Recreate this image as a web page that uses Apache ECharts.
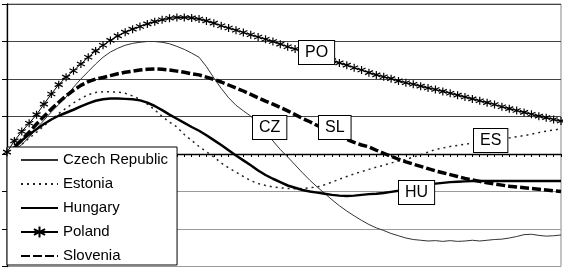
<!DOCTYPE html>
<html>
<head>
<meta charset="utf-8">
<script src="https://cdn.jsdelivr.net/npm/echarts@6/dist/echarts.min.js"></script>
<style>
html,body{margin:0;padding:0;background:#fff;}
#chart{width:563px;height:268px;}
</style>
</head>
<body>
<div id="chart"></div>
<script>
var seriesNames = ['Czech Republic', 'Estonia', 'Hungary', 'Poland', 'Slovenia'];

var czech = [0, 0.1, 0.25, 0.45, 0.68, 0.9, 1.12, 1.32, 1.52, 1.78, 2.0, 2.2, 2.4, 2.58, 2.72, 2.82, 2.9, 2.95, 2.98, 3.0,
  3.0, 2.98, 2.94, 2.87, 2.79, 2.69, 2.58, 2.33, 2.03, 1.75, 1.5, 1.3, 1.15, 1.01, 0.8, 0.58, 0.35, 0.12, -0.08, -0.29,
  -0.5, -0.7, -0.88, -1.05, -1.22, -1.38, -1.52, -1.65, -1.77, -1.88, -1.97, -2.04, -2.12, -2.18, -2.24, -2.28, -2.3, -2.32, -2.31, -2.33,
  -2.31, -2.33, -2.32, -2.3, -2.32, -2.3, -2.28, -2.27, -2.24, -2.2, -2.15, -2.14, -2.17, -2.19, -2.18, -2.16];

var estonia = [0, 0.12, 0.26, 0.42, 0.58, 0.75, 0.92, 1.08, 1.22, 1.36, 1.48, 1.58, 1.64, 1.66, 1.66, 1.65, 1.62, 1.55, 1.46, 1.33,
  1.18, 1.0, 0.85, 0.72, 0.52, 0.36, 0.2, 0.06, -0.08, -0.24, -0.37, -0.48, -0.6, -0.71, -0.79, -0.84, -0.88, -0.9, -0.92, -0.93,
  -0.92, -0.9, -0.88, -0.82, -0.75, -0.67, -0.6, -0.53, -0.47, -0.41, -0.35, -0.3, -0.24, -0.19, -0.15, -0.08, -0.02, 0.05, 0.12, 0.16,
  0.2, 0.23, 0.26, 0.29, 0.32, 0.35, 0.38, 0.4, 0.43, 0.46, 0.49, 0.53, 0.57, 0.61, 0.64, 0.67];

var hungary = [0, 0.18, 0.36, 0.52, 0.66, 0.8, 0.92, 1.02, 1.1, 1.18, 1.27, 1.35, 1.42, 1.46, 1.48, 1.48, 1.47, 1.46, 1.43, 1.37,
  1.28, 1.17, 1.05, 0.94, 0.83, 0.72, 0.62, 0.5, 0.37, 0.24, 0.1, -0.04, -0.17, -0.3, -0.44, -0.56, -0.66, -0.75, -0.84, -0.9,
  -0.96, -1.0, -1.03, -1.06, -1.09, -1.11, -1.12, -1.11, -1.09, -1.07, -1.06, -1.04, -1.01, -0.98, -0.94, -0.9, -0.86, -0.82, -0.79, -0.77,
  -0.75, -0.74, -0.73, -0.72, -0.72, -0.72, -0.72, -0.72, -0.72, -0.72, -0.72, -0.72, -0.72, -0.72, -0.72, -0.72];

var poland = [0.05, 0.35, 0.6, 0.82, 1.05, 1.33, 1.6, 1.85, 2.05, 2.22, 2.4, 2.58, 2.75, 2.9, 3.03, 3.15, 3.25, 3.33, 3.4, 3.47,
  3.53, 3.58, 3.62, 3.64, 3.64, 3.63, 3.6, 3.55, 3.49, 3.42, 3.36, 3.3, 3.24, 3.18, 3.12, 3.06, 3.0, 2.93, 2.86, 2.8,
  2.74, 2.68, 2.62, 2.56, 2.49, 2.43, 2.37, 2.3, 2.24, 2.17, 2.11, 2.06, 2.01, 1.95, 1.9, 1.86, 1.81, 1.76, 1.72, 1.67,
  1.62, 1.57, 1.52, 1.47, 1.42, 1.37, 1.32, 1.26, 1.21, 1.16, 1.11, 1.06, 1.01, 0.97, 0.92, 0.88];

var slovenia = [0, 0.18, 0.38, 0.58, 0.8, 1.0, 1.2, 1.38, 1.55, 1.7, 1.83, 1.93, 2.0, 2.04, 2.09, 2.14, 2.18, 2.21, 2.24, 2.26,
  2.27, 2.26, 2.24, 2.21, 2.18, 2.14, 2.11, 2.05, 1.99, 1.92, 1.84, 1.76, 1.68, 1.59, 1.5, 1.41, 1.33, 1.24, 1.15, 1.05,
  0.95, 0.86, 0.76, 0.67, 0.58, 0.49, 0.39, 0.31, 0.24, 0.19, 0.1, 0.02, -0.06, -0.14, -0.21, -0.27, -0.33, -0.39, -0.45, -0.5,
  -0.55, -0.6, -0.65, -0.69, -0.73, -0.77, -0.8, -0.83, -0.86, -0.88, -0.9, -0.92, -0.94, -0.96, -0.98, -1.0];

var periods = [];
for (var i = 0; i < czech.length; i++) periods.push(String(i + 1));

var tags = [
  {text: 'PO', x: 298, y: 40},
  {text: 'CZ', x: 252, y: 115},
  {text: 'SL', x: 318, y: 115},
  {text: 'ES', x: 473, y: 128},
  {text: 'HU', x: 398, y: 180}
];

var FONT = '"Liberation Sans", Arial, sans-serif';
var starPath = 'path://M0,-5L0,5M-4.33,-2.5L4.33,2.5M-4.33,2.5L4.33,-2.5';

var noMarker = {color: 'transparent', borderWidth: 0, opacity: 0};

var chart = echarts.init(document.getElementById('chart'), null, {renderer: 'canvas'});
chart.setOption({
  animation: false,
  backgroundColor: '#fff',
  grid: {left: 7, right: 2, top: 4, bottom: 1.5, show: true, borderColor: '#888', borderWidth: 1, backgroundColor: 'transparent'},
  xAxis: {
    type: 'category', data: periods, boundaryGap: false,
    axisLine: {onZero: true, lineStyle: {color: '#000', width: 1.3}},
    axisTick: {show: true, interval: 0, length: 3, lineStyle: {color: '#000'}},
    axisLabel: {show: false},
    splitLine: {show: false}
  },
  yAxis: {
    type: 'value', min: -3, max: 4, interval: 1,
    axisLine: {show: true, lineStyle: {color: '#000', width: 1.3}},
    axisTick: {show: true, length: 5, lineStyle: {color: '#000'}},
    axisLabel: {show: false},
    splitLine: {show: true, lineStyle: {color: ['#999', '#999', '#999', '#000', '#444', '#444', '#444', '#444'], width: 1}}
  },
  legend: {
    orient: 'vertical', left: 7, top: 147,
    padding: [5, 9, 1, 13],
    itemWidth: 37, itemHeight: 14, itemGap: 8,
    backgroundColor: '#fff', borderColor: '#000', borderWidth: 1,
    textStyle: {fontFamily: FONT, fontSize: 15, lineHeight: 16, color: '#000'},
    data: [
      {name: seriesNames[0], itemStyle: noMarker},
      {name: seriesNames[1], itemStyle: noMarker},
      {name: seriesNames[2], itemStyle: noMarker},
      {name: seriesNames[3]},
      {name: seriesNames[4], itemStyle: noMarker}
    ]
  },
  series: [
    {name: seriesNames[0], type: 'line', data: czech, symbol: 'none', smooth: false,
      lineStyle: {color: '#333', width: 1}, itemStyle: {color: '#333'}, z: 2},
    {name: seriesNames[1], type: 'line', data: estonia, symbol: 'none',
      lineStyle: {color: '#222', width: 1.5, type: [2, 4]}, itemStyle: {color: '#222'}, z: 2},
    {name: seriesNames[2], type: 'line', data: hungary, symbol: 'none',
      lineStyle: {color: '#000', width: 2.5}, itemStyle: {color: '#000'}, z: 3},
    {name: seriesNames[3], type: 'line', data: poland, symbol: starPath, symbolSize: 8, showSymbol: true, showAllSymbol: true,
      lineStyle: {color: '#000', width: 1}, itemStyle: {color: 'transparent', borderColor: '#000', borderWidth: 1.2}, z: 4},
    {name: seriesNames[4], type: 'line', data: slovenia, symbol: 'none',
      lineStyle: {color: '#000', width: 3.5, type: [9, 3]}, itemStyle: {color: '#000'}, z: 3}
  ],
  graphic: tags.map(function (t) {
    return {
      type: 'text', left: t.x, top: t.y, z: 100,
      style: {
        text: t.text, font: '16px ' + FONT, fill: '#000',
        backgroundColor: '#fff', borderColor: '#000', borderWidth: 1,
        padding: [4, 6, 3, 6]
      }
    };
  })
});
</script>
</body>
</html>
